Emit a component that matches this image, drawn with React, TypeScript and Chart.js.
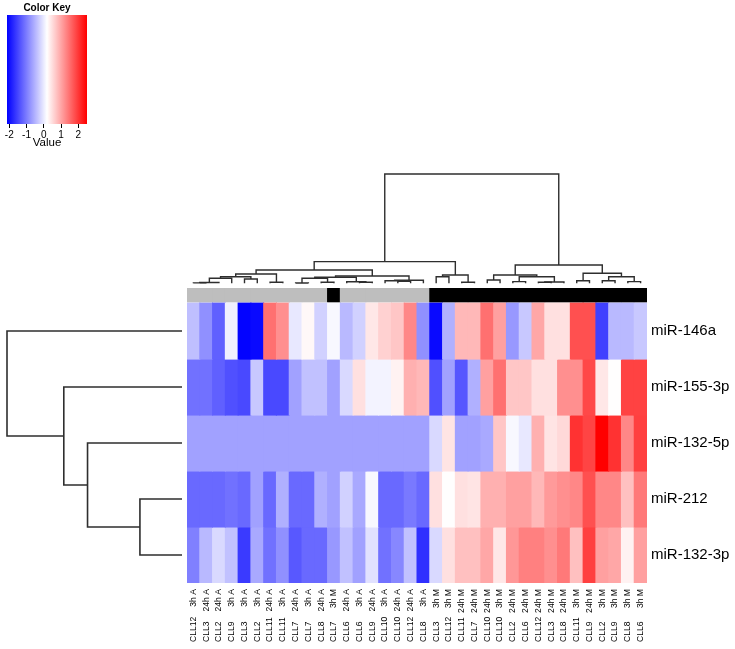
import React, { useEffect, useRef } from 'react';
import { Chart, registerables } from 'chart.js';

Chart.register(...registerables);

// ---------- data ----------
const rowLabels = ['miR-146a', 'miR-155-3p', 'miR-132-5p', 'miR-212', 'miR-132-3p'];

const colPatients = ['CLL12', 'CLL3', 'CLL2', 'CLL9', 'CLL3', 'CLL2', 'CLL11', 'CLL11', 'CLL7', 'CLL7', 'CLL8', 'CLL7', 'CLL6', 'CLL6', 'CLL9', 'CLL10', 'CLL10', 'CLL12',
  'CLL8', 'CLL3', 'CLL12', 'CLL11', 'CLL7', 'CLL10', 'CLL10', 'CLL2', 'CLL6', 'CLL12', 'CLL3', 'CLL8', 'CLL11', 'CLL9', 'CLL2', 'CLL9', 'CLL8', 'CLL6'];
const colConditions = ['3h A', '24h A', '24h A', '3h A', '3h A', '3h A', '24h A', '3h A', '24h A', '3h A', '24h A', '3h M', '24h A', '3h A', '24h A', '3h A', '24h A', '24h A',
  '3h A', '3h M', '3h M', '24h M', '24h M', '24h M', '3h M', '24h M', '24h M', '24h M', '24h M', '24h M', '3h M', '24h M', '3h M', '3h M', '3h M', '3h M'];

const valMiR146a = [-0.4, -0.82, -1.26, 0.05, -2.1, -2.05, 1.48, 1.2, -0.02, 0.25, -0.23, 0.12, -0.45, -0.23, 0.4, 0.6, 0.7, 1.27,
  -0.82, -2.05, -0.53, 0.83, 0.83, 1.48, 1.05, -0.75, -0.31, 0.98, 0.47, 0.47, 1.77, 1.77, -1.55, -0.45, -0.45, -0.31];
const valMiR155 = [-1.1, -1.1, -1.26, -1.4, -1.47, -0.31, -1.47, -1.47, -0.67, -0.38, -0.38, -0.67, -0.16, 0.47, 0.08, 0.08, 0.3, 0.9,
  0.83, -1.4, -0.67, -1.35, -0.53, 1.05, 1.48, 0.7, 0.7, 0.47, 0.47, 1.2, 1.2, 1.85, 0.4, 0.19, 1.9, 1.9];
const valMiR132_5p = [-0.67, -0.67, -0.67, -0.67, -0.67, -0.67, -0.67, -0.67, -0.67, -0.67, -0.67, -0.67, -0.67, -0.67, -0.67, -0.67, -0.67, -0.67,
  -0.67, -0.16, 0.43, -0.67, -0.67, -0.6, 0.7, 0.12, -0.02, 0.9, 0.43, 0.53, 2.05, 1.88, 2.5, 2.05, 1.27, 1.92];
const valMiR212 = [-1.18, -1.18, -1.18, -1.1, -1.18, -0.67, -1.18, -0.53, -1.18, -1.18, -0.53, -0.67, -0.23, -0.6, 0.12, -1.18, -1.18, -1.03,
  -1.18, 0.47, 0.19, 0.47, 0.43, 0.9, 0.9, 1.05, 1.05, 0.83, 1.1, 1.2, 1.27, 1.77, 1.27, 1.27, 0.76, 1.4];
const valMiR132_3p = [-0.97, -0.45, -0.16, -0.38, -1.6, -0.6, -1.1, -0.82, -1.33, -1.18, -1.18, -0.75, -0.38, -0.67, -0.09, -1.1, -0.9, -0.38,
  -1.7, -0.16, 0.47, 0.76, 0.76, 0.98, 0.4, 1.13, 1.34, 1.34, 1.2, 1.4, 0.76, 1.92, 1.05, 0.98, 0.3, 1.05];
const heatValues = [valMiR146a, valMiR155, valMiR132_5p, valMiR212, valMiR132_3p];

const keyMin = -2.13;
const keyMax = 2.5;
const keyTicks = [-2, -1, 0, 1, 2];

// hclust-style merges: negative = leaf (1-based), positive = earlier merge (1-based), then height
const colMerge = [
  [-1, -2, 0.4], [1, -3, 0.8], [2, -4, 5.0], [-5, -6, 4.3], [3, 4, 6.6], [-7, -8, 1.0], [5, 6, 9.3],
  [-9, -10, 0.3], [-11, -12, 1.0], [8, 9, 5.0], [-14, -15, 1.0], [-13, 11, 1.5], [10, 12, 6.0],
  [-17, -18, 2.0], [-16, 14, 2.6], [15, -19, 3.0], [13, 16, 7.3], [7, 17, 13.3],
  [-20, -21, 6.6], [-22, -23, 1.0], [19, 20, 8.3], [18, 21, 21.7],
  [-24, -25, 3.3], [-26, -27, 1.7], [-28, -29, 1.0], [25, -30, 1.3], [24, 26, 6.6], [23, 27, 8.3],
  [-31, -32, 2.6], [-33, -34, 2.6], [-35, -36, 1.7], [30, 31, 6.6], [29, 32, 10.0], [28, 33, 18.3],
  [22, 34, 109.3],
];
const rowMerge = [
  [-4, -5, 42], [-3, 1, 94.3], [-2, 2, 118], [-1, 3, 174.7],
];

// ---------- helpers ----------
const SANS = "'Liberation Sans', Arial, sans-serif";
const LABEL_FONT = "'Liberation Sans', Arial, sans-serif";
const LABEL_SIZE = 8.6;
const LINE = '#2e2e2e';

function clamp01(t: number) { return Math.max(0, Math.min(1, t)); }
function colorFor(v: number) {
  const mid = (keyMin + keyMax) / 2;
  if (v <= mid) {
    const c = Math.round(255 * clamp01((v - keyMin) / (mid - keyMin)));
    return `rgb(${c},${c},255)`;
  }
  const c = Math.round(255 * (1 - clamp01((v - mid) / (keyMax - mid))));
  return `rgb(255,${c},${c})`;
}

function dendroSegments(merges: number[][]) {
  const pos: number[] = [];
  const hts: number[] = [];
  const segs: number[][][] = [];
  merges.forEach(([a, b, h]) => {
    const pa = a < 0 ? -a - 1 : pos[a - 1];
    const ha = a < 0 ? 0 : hts[a - 1];
    const pb = b < 0 ? -b - 1 : pos[b - 1];
    const hb = b < 0 ? 0 : hts[b - 1];
    pos.push((pa + pb) / 2);
    hts.push(h);
    segs.push([[pa, ha], [pa, h], [pb, h], [pb, hb]]);
  });
  return segs;
}

const baseOpts = {
  responsive: false,
  animation: false as const,
  events: [] as any[],
  plugins: { legend: { display: false }, tooltip: { enabled: false }, title: { display: false } },
};

export default function App() {
  const keyRef = useRef<HTMLCanvasElement>(null);
  const topRef = useRef<HTMLCanvasElement>(null);
  const leftRef = useRef<HTMLCanvasElement>(null);
  const heatRef = useRef<HTMLCanvasElement>(null);

  useEffect(() => {
    const charts: Chart[] = [];

    // ---- color key ----
    charts.push(new Chart(keyRef.current!, {
      type: 'bar',
      data: {
        labels: [''],
        datasets: [{
          data: [[keyMin, keyMax]] as any,
          backgroundColor: (ctx: any) => {
            const chart = ctx.chart;
            const xs = chart.scales.x;
            if (!xs || !chart.chartArea) return '#fff';
            const x0 = xs.getPixelForValue(keyMin);
            const x1 = xs.getPixelForValue(keyMax);
            const g = chart.ctx.createLinearGradient(x0, 0, x1, 0);
            const stops = [keyMin, (keyMin + keyMax) / 2, keyMax];
            stops.forEach((v) => g.addColorStop((v - keyMin) / (keyMax - keyMin), colorFor(v)));
            return g;
          },
          borderWidth: 0,
          barPercentage: 1,
          categoryPercentage: 1,
        }],
      },
      options: {
        ...baseOpts,
        indexAxis: 'y',
        layout: { padding: { left: 7, right: 13, top: 0, bottom: 0 } },
        plugins: {
          ...baseOpts.plugins,
          title: {
            display: true, text: 'Color Key', color: '#000',
            font: { family: SANS, size: 10, weight: 'bold' },
            padding: { top: 2, bottom: 1 },
          },
        },
        scales: {
          x: {
            type: 'linear', min: keyMin, max: keyMax,
            afterBuildTicks: (s: any) => { s.ticks = keyTicks.map((v) => ({ value: v })); },
            ticks: { color: '#000', font: { family: SANS, size: 10 }, padding: 1, autoSkip: false, maxRotation: 0 },
            grid: { display: true, drawOnChartArea: false, drawTicks: true, tickLength: 4, color: '#000' },
            border: { display: false },
            title: { display: true, text: 'Value', color: '#000', font: { family: SANS, size: 11.5 }, padding: { top: 0, bottom: 0 } },
            afterFit: (s: any) => { s.height = 26; s.paddingLeft = 0; s.paddingRight = 0; },
          },
          y: { type: 'category', display: false },
        },
      } as any,
    }));

    // ---- column dendrogram ----
    const colSegs = dendroSegments(colMerge);
    charts.push(new Chart(topRef.current!, {
      type: 'scatter',
      data: {
        datasets: colSegs.map((s) => ({
          data: s.map(([p, h]) => ({ x: p, y: h })),
          showLine: true, borderColor: LINE, borderWidth: 1.4, pointRadius: 0, tension: 0, clip: false as any,
        })),
      },
      options: {
        ...baseOpts,
        layout: { padding: { left: 0, right: 0, top: 4, bottom: 4.7 } },
        scales: {
          x: { type: 'linear', min: -0.5, max: colPatients.length - 0.5, display: false },
          y: { type: 'linear', min: 0, max: 109.3, display: false },
        },
      } as any,
    }));

    // ---- row dendrogram ----
    const rowSegs = dendroSegments(rowMerge);
    charts.push(new Chart(leftRef.current!, {
      type: 'scatter',
      data: {
        datasets: rowSegs.map((s) => ({
          data: s.map(([p, h]) => ({ x: h, y: p })),
          showLine: true, borderColor: LINE, borderWidth: 1.6, pointRadius: 0, tension: 0, clip: false as any,
        })),
      },
      options: {
        ...baseOpts,
        layout: { padding: { left: 7, right: 5, top: 0, bottom: 0 } },
        scales: {
          x: { type: 'linear', min: 0, max: 174.7, reverse: true, display: false },
          y: { type: 'linear', min: -0.5, max: rowLabels.length - 0.5, reverse: true, display: false },
        },
      } as any,
    }));

    // ---- heatmap ----
    const nRows = rowLabels.length;
    const cellDatasets = heatValues.map((row, r) => ({
      data: row.map(() => [nRows - 1 - r, nRows - r]),
      backgroundColor: row.map(colorFor),
      borderWidth: 0, grouped: false, barPercentage: 1, categoryPercentage: 1, inflateAmount: 0.5,
    }));
    const sideDataset = {
      data: colConditions.map(() => [5.02, 5.27]),
      backgroundColor: colConditions.map((c) => (c.endsWith('M') ? '#000000' : '#bebebe')),
      borderWidth: 0, grouped: false, barPercentage: 1, categoryPercentage: 1, inflateAmount: 0.5,
    };
    const patientPlugin = {
      id: 'patientLabels',
      afterDraw(chart: any) {
        const { ctx, chartArea } = chart;
        const xs = chart.scales.x;
        ctx.save();
        ctx.fillStyle = '#000';
        ctx.font = `${LABEL_SIZE}px ${LABEL_FONT}`;
        ctx.textAlign = 'left';
        ctx.textBaseline = 'middle';
        colPatients.forEach((p, i) => {
          const px = xs.getPixelForTick(i);
          ctx.save();
          ctx.translate(px, chartArea.bottom + 59);
          ctx.rotate(-Math.PI / 2);
          ctx.fillText(p, 0, 0);
          ctx.restore();
        });
        ctx.restore();
      },
    };
    charts.push(new Chart(heatRef.current!, {
      type: 'bar',
      data: { labels: colConditions, datasets: [...cellDatasets, sideDataset] as any },
      options: {
        ...baseOpts,
        layout: { padding: 0 },
        scales: {
          x: {
            type: 'category', position: 'bottom', offset: true,
            ticks: {
              autoSkip: false, minRotation: 90, maxRotation: 90, padding: 6, color: '#000',
              font: { family: LABEL_FONT, size: LABEL_SIZE },
              callback: (_v: any, i: number) => colConditions[i],
            },
            grid: { display: false, drawTicks: false },
            border: { display: false },
            afterFit: (s: any) => { s.height = 66; s.paddingLeft = 0; s.paddingRight = 0; },
          },
          y: {
            type: 'linear', position: 'right', min: 0, max: 5.27,
            afterBuildTicks: (s: any) => { s.ticks = rowLabels.map((_l, r) => ({ value: nRows - r - 0.5 })); },
            ticks: {
              autoSkip: false, color: '#000', padding: 4,
              font: { family: SANS, size: 15 },
              callback: (v: any) => rowLabels[nRows - 1 - Math.floor(v)],
            },
            grid: { display: false, drawTicks: false },
            border: { display: false },
            afterFit: (s: any) => { s.width = 88; s.paddingTop = 0; s.paddingBottom = 0; },
          },
        },
      } as any,
      plugins: [patientPlugin],
    }));

    return () => { charts.forEach((c) => c.destroy()); };
  }, []);

  const cv = (left: number, top: number, w: number, h: number) => ({
    position: 'absolute' as const, left, top, width: w, height: h, display: 'block',
  });

  return (
    <div style={{ position: 'absolute', left: 0, top: 0, width: 735, height: 649, background: '#fff', overflow: 'hidden' }}>
      <canvas ref={keyRef} width={100} height={150} style={cv(0, 0, 100, 150)} />
      <canvas ref={topRef} width={460} height={118} style={cv(187, 170, 460, 118)} />
      <canvas ref={leftRef} width={187} height={280} style={cv(0, 303, 187, 280)} />
      <canvas ref={heatRef} width={548} height={361} style={cv(187, 288, 548, 361)} />
    </div>
  );
}
